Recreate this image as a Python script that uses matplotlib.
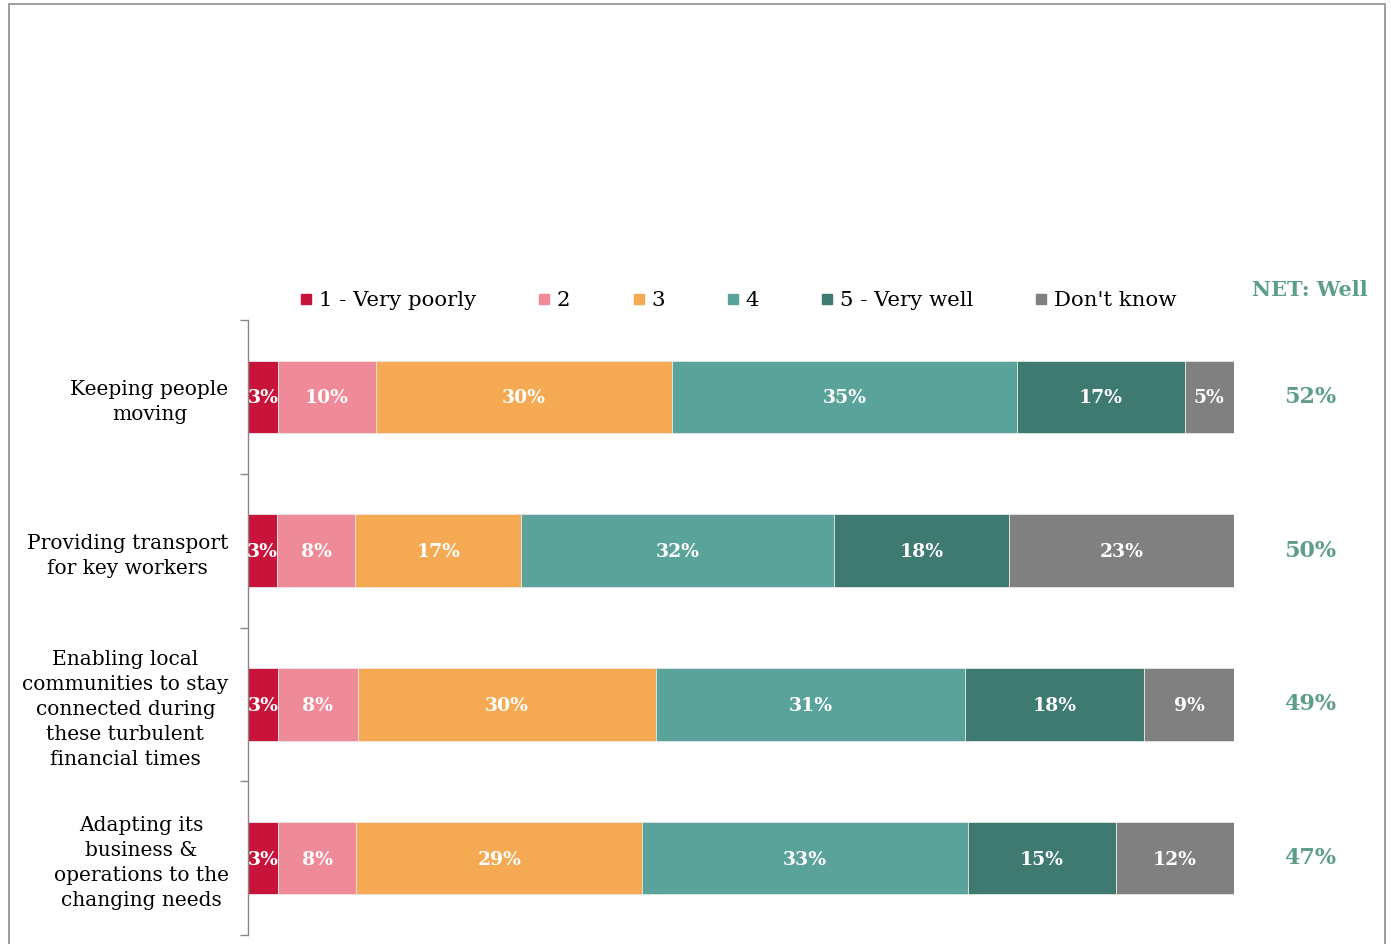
import matplotlib
matplotlib.use("Agg")
import matplotlib.pyplot as plt
import numpy as np
from matplotlib.lines import Line2D
from matplotlib.patches import Rectangle

plt.rcParams['font.family'] = ['DejaVu Serif']

categories = [
    "Keeping people\nmoving",
    "Providing transport\nfor key workers",
    "Enabling local\ncommunities to stay\nconnected during\nthese turbulent\nfinancial times",
    "Adapting its\nbusiness &\noperations to the\nchanging needs",
]
series = ["1 - Very poorly", "2", "3", "4", "5 - Very well", "Don't know"]
very_poorly = [3, 3, 3, 3]
rating_2 = [10, 8, 8, 8]
rating_3 = [30, 17, 30, 29]
rating_4 = [35, 32, 31, 33]
very_well = [17, 18, 18, 15]
dont_know = [5, 23, 9, 12]
net_well = [52, 50, 49, 47]

colors = ["#C8143A", "#EF8A98", "#F4A952", "#5AA39A", "#3E7A70", "#808080"]
net_color = "#5E9E87"

W, H, DPI = 1391, 944, 100
fig = plt.figure(figsize=(W / DPI, H / DPI), dpi=DPI)
ax = fig.add_axes([248 / W, 1 - 935 / H, (1234 - 248) / W, (935 - 320) / H])

values = np.array([very_poorly, rating_2, rating_3, rating_4, very_well, dont_know], dtype=float)
totals = values.sum(axis=0)
shares = values / totals * 100
y = np.arange(len(categories))

# Stacked segments, each row scaled to its own total
left = np.zeros(len(categories))
for i, name in enumerate(series):
    ax.barh(y, shares[i], left=left, height=0.47, color=colors[i],
            edgecolor="#e6e6e6", linewidth=0.6, label=name)
    for j in range(len(categories)):
        ax.text(left[j] + shares[i][j] / 2, y[j] + 0.01,
                f"{int(values[i][j])}%", ha="center", va="center",
                color="white", fontsize=13.5, fontweight="bold", clip_on=True)
    left += shares[i]

ax.set_xlim(0, 100)
ax.set_ylim(len(categories) - 0.5, -0.5)
ax.set_xticks([])
ax.set_yticks(y)
ax.set_yticklabels(categories, fontsize=14.5, ha="right", multialignment="center",
                   linespacing=1.4)
ax.tick_params(axis="y", which="major", length=0, pad=14)
ax.set_yticks(np.arange(-0.5, len(categories)), minor=True)
ax.tick_params(axis="y", which="minor", length=6, color="#888888", width=1)
for s in ["top", "right", "bottom"]:
    ax.spines[s].set_visible(False)
ax.spines["left"].set_color("#888888")
ax.spines["left"].set_linewidth(1)

# NET column
net_x = 1310
fig.text(net_x / W, 1 - 290 / H, "NET: Well", ha="center", va="center",
         color=net_color, fontsize=15, fontweight="bold")
for j, v in enumerate(net_well):
    disp_y = ax.transData.transform((0, y[j]))[1]
    fig.text(net_x / W, disp_y / H, f"{v}%", ha="center", va="center",
             color=net_color, fontsize=16, fontweight="bold")

# Legend
handles = [Line2D([], [], marker="s", linestyle="none", markersize=7.5,
                  markerfacecolor=c, markeredgecolor=c) for c in colors]
fig.legend(handles, series, loc="center left", bbox_to_anchor=(300 / W, 1 - 301 / H),
           ncol=6, frameon=False, fontsize=15.3, handlelength=0.6, handletextpad=0.3,
           columnspacing=2.9, borderaxespad=0, borderpad=0)

# Outer frame
fig.add_artist(Rectangle((9 / W, -0.05), (1385 - 9) / W, 1.05 - 4 / H,
                         transform=fig.transFigure, fill=False,
                         edgecolor="#8c8c8c", linewidth=1.2))

fig.savefig("out.png", dpi=DPI)
